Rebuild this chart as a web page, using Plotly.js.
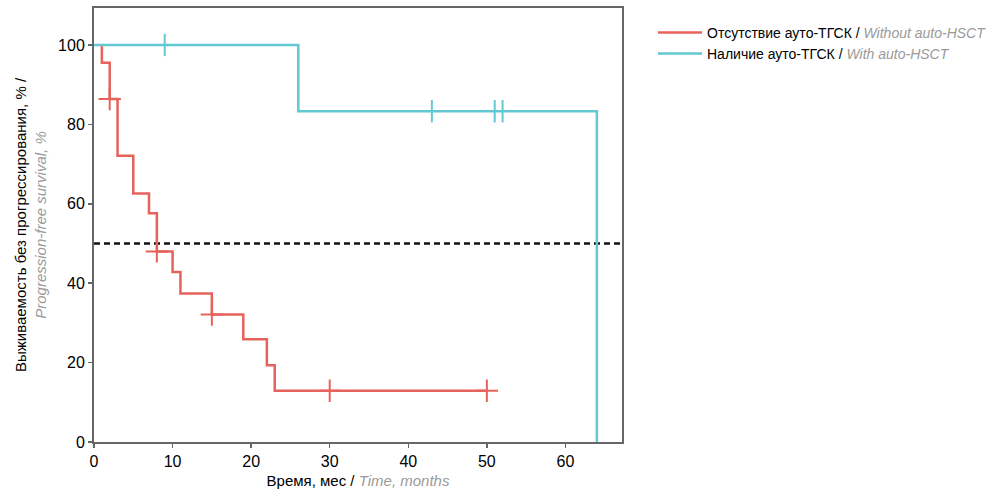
<!DOCTYPE html>
<html>
<head>
<meta charset="utf-8">
<script src="https://cdn.plot.ly/plotly-3.0.1.min.js"></script>
<style>html,body{margin:0;padding:0;background:#fff}#chart{width:1000px;height:494px}</style>
</head>
<body>
<div id="chart"></div>
<script>
// Without auto-HSCT (Kaplan-Meier steps)
const redTime = [1, 1, 2, 3, 5, 7, 8, 10, 11, 15, 19, 22, 23, 50];
const redSurv = [100, 95.5, 86.4, 72.1, 62.6, 57.6, 48.0, 42.8, 37.4, 32.1, 25.9, 19.3, 12.9, 12.9];
const redCensTime = [2, 8, 15, 30, 50];
const redCensSurv = [86.4, 48.0, 32.1, 12.9, 12.9];
// With auto-HSCT
const blueTime = [0, 26, 64, 64];
const blueSurv = [100, 83.3, 83.3, 0];
const blueCensTime = [9, 43, 51, 52];
const blueCensSurv = [100, 83.3, 83.3, 83.3];
// median reference
const medianX = [0, 67.2];
const medianY = [50, 50];
const xTicks = [0, 10, 20, 30, 40, 50, 60];
const yTicks = [0, 20, 40, 60, 80, 100];

const RED = '#e8625c', BLUE = '#62c9d3';
const FONT = '"Liberation Sans", Arial, sans-serif';
const GREY = '<span style="color:#9a9a9a"><i>';

const traces = [
  {x: medianX, y: medianY, mode: 'lines', line: {color: '#111', width: 2.5, dash: '6px,4px'}, showlegend: false, hoverinfo: 'skip'},
  {x: redTime, y: redSurv, mode: 'lines', line: {color: RED, width: 2.5, shape: 'hv'},
   name: 'Отсутствие ауто-ТГСК / ' + GREY + 'Without auto-HSCT</i></span>'},
  {x: blueTime, y: blueSurv, mode: 'lines', line: {color: BLUE, width: 2.5, shape: 'hv'},
   name: 'Наличие ауто-ТГСК / ' + GREY + 'With auto-HSCT</i></span>'},
  {x: redCensTime, y: redCensSurv, mode: 'markers', showlegend: false,
   marker: {symbol: 'cross-thin-open', size: 16, color: RED, line: {color: RED, width: 2}}},
  {x: blueCensTime, y: blueCensSurv, mode: 'markers', showlegend: false,
   marker: {symbol: 'line-ns-open', size: 16, color: BLUE, line: {color: BLUE, width: 2}}}
];

const layout = {
  width: 1000, height: 494,
  margin: {l: 94, r: 378, t: 8, b: 52},
  paper_bgcolor: '#fff', plot_bgcolor: '#fff',
  font: {family: FONT, size: 16, color: '#000'},
  showlegend: true,
  legend: {xref: 'container', yref: 'container', x: 0.653, y: 0.966, xanchor: 'left', yanchor: 'top',
           font: {family: FONT, size: 14, color: '#000'},
           itemwidth: 44, tracegroupgap: 0, bgcolor: 'rgba(0,0,0,0)'},
  xaxis: {range: [0, 67.2], tickvals: xTicks, ticks: 'outside', ticklen: 4, tickcolor: '#666', tickwidth: 1.5,
          showline: true, linecolor: '#666', linewidth: 2, mirror: true, showgrid: false, zeroline: false,
          tickfont: {size: 16},
          title: {text: 'Время, мес / ' + GREY + 'Time, months</i></span>', font: {size: 15}, standoff: 6}},
  yaxis: {range: [0, 109.3], tickvals: yTicks, ticks: 'outside', ticklen: 4, tickcolor: '#666', tickwidth: 1.5,
          showline: true, linecolor: '#666', linewidth: 2, mirror: true, showgrid: false, zeroline: false,
          tickfont: {size: 16},
          title: {text: 'Выживаемость без прогрессирования, % /<br>' + GREY + 'Progression-free survival, %</i></span>', font: {size: 15}, standoff: 8}}
};

Plotly.newPlot('chart', traces, layout, {displayModeBar: false, staticPlot: true});
</script>
</body>
</html>
